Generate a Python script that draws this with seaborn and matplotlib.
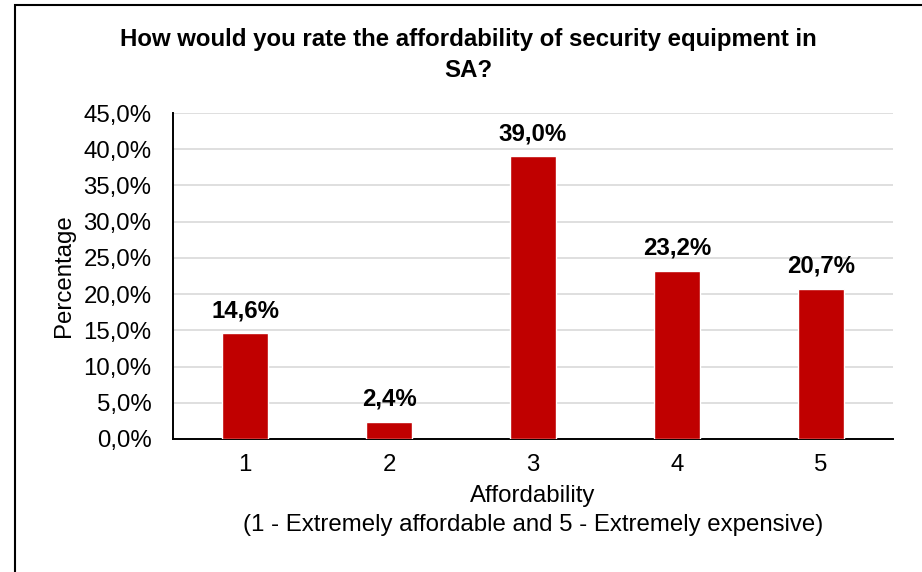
import matplotlib
matplotlib.use('Agg')
import matplotlib.pyplot as plt
import matplotlib.patches as patches
import pandas as pd
import seaborn as sns

# Chart data
ratings = ['1', '2', '3', '4', '5']
percentages = [14.6, 2.4, 39.0, 23.2, 20.7]
y_ticks = [0, 5, 10, 15, 20, 25, 30, 35, 40, 45]
y_tick_labels = ['0,0%', '5,0%', '10,0%', '15,0%', '20,0%', '25,0%', '30,0%', '35,0%', '40,0%', '45,0%']

df = pd.DataFrame({'Affordability': ratings, 'Percentage': percentages})

sns.set_theme(style='white')
plt.rcParams['font.family'] = ['Liberation Sans', 'DejaVu Sans']
plt.rcParams.update({'text.color': 'black', 'axes.labelcolor': 'black',
                     'xtick.color': 'black', 'ytick.color': 'black'})

FS = 17.3

fig = plt.figure(figsize=(9.22, 5.72), dpi=100)
ax = fig.add_axes([173 / 922, 1 - 439 / 572, 720 / 922, 326 / 572])

sns.barplot(data=df, x='Affordability', y='Percentage', color='#C00000',
            width=0.315, saturation=1, ax=ax, zorder=3)

ax.set_ylim(0, 45)
ax.set_yticks(y_ticks)
ax.set_yticklabels(y_tick_labels, fontsize=FS)
ax.tick_params(axis='x', labelsize=FS, length=0, pad=11)
ax.tick_params(axis='y', length=0, pad=15.5)
ax.yaxis.grid(True, color='#D9D9D9', linewidth=1.2, zorder=0)
ax.set_axisbelow(True)

for side in ['top', 'right']:
    ax.spines[side].set_visible(False)
for side in ['left', 'bottom']:
    ax.spines[side].set_color('black')
    ax.spines[side].set_linewidth(1.4)

# Value labels above bars
for i, v in enumerate(percentages):
    ax.annotate(f"{v:.1f}%".replace('.', ','), xy=(i, v), xytext=(0, 8),
                textcoords='offset points', ha='center', va='bottom',
                fontsize=FS, fontweight='bold', color='black')

ax.set_xlabel('Affordability\n(1 - Extremely affordable and 5 - Extremely expensive)',
              fontsize=FS, labelpad=6, linespacing=1.45)
ax.set_ylabel('Percentage', fontsize=FS, labelpad=6)

fig.text(468 / 922, 1 - 55 / 572,
         'How would you rate the affordability of security equipment in\nSA?',
         ha='center', va='center', fontsize=FS, fontweight='bold', linespacing=1.4)

# Outer chart border (partially cropped in the reference)
border = patches.Rectangle((15 / 922, -0.1), 1.0, 1 - 5 / 572 + 0.1,
                           transform=fig.transFigure, fill=False,
                           edgecolor='black', linewidth=1.5, clip_on=False)
fig.patches.append(border)

fig.savefig('out.png', dpi=100)
